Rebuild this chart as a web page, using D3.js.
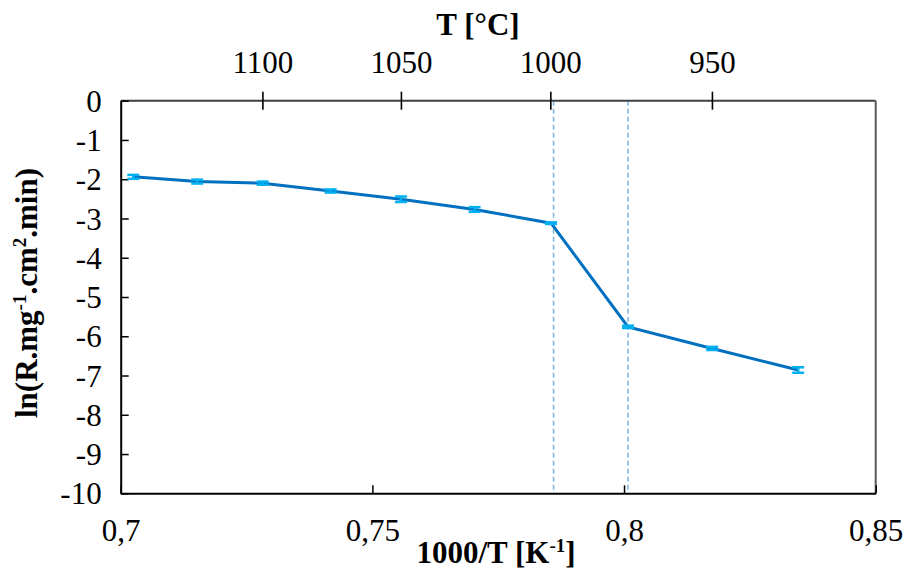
<!DOCTYPE html>
<html><head><meta charset="utf-8">
<script src="https://cdn.jsdelivr.net/npm/d3@7"></script>
<style>
body{margin:0;background:#fff;}
text{font-family:"Liberation Serif","Times New Roman",serif;fill:#000;}
</style></head>
<body><svg id="c" width="904" height="571"></svg>
<script>
const invT = [0.7025, 0.7152, 0.7282, 0.7417, 0.7557, 0.7703, 0.7855, 0.8008, 0.8175, 0.8346];
const lnR  = [-1.94, -2.06, -2.10, -2.30, -2.51, -2.77, -3.12, -5.76, -6.31, -6.86];
const errs = [0.05, 0.05, 0.04, 0.04, 0.07, 0.06, 0.02, 0.03, 0.04, 0.07];
const xTicks = [0.7, 0.75, 0.8, 0.85];
const xTickLabels = ["0,7", "0,75", "0,8", "0,85"];
const yTicks = [0, -1, -2, -3, -4, -5, -6, -7, -8, -9, -10];
const topTicksC = [1100, 1050, 1000, 950];
const dashedX = [0.7860, 0.8008];

const svg = d3.select("#c");
const L = 120.7, R = 875.7, T = 100.7, B = 493.3;
const x = d3.scaleLinear().domain([0.7, 0.85]).range([L, R]);
const y = d3.scaleLinear().domain([-10, 0]).range([B, T]);
const fs = 31;

// dashed reference lines
svg.selectAll("line.dash").data(dashedX).enter().append("line")
  .attr("x1", d => x(d)).attr("x2", d => x(d)).attr("y1", T).attr("y2", B)
  .attr("stroke", "#8ab8e6").attr("stroke-width", 1.6).attr("stroke-dasharray", "5,3");

// frame: top & right
svg.append("line").attr("x1", L).attr("x2", R).attr("y1", T).attr("y2", T).attr("stroke", "#404040").attr("stroke-width", 2);
svg.append("line").attr("x1", R).attr("x2", R).attr("y1", T).attr("y2", B).attr("stroke", "#595959").attr("stroke-width", 2);

// bottom axis
const xAxis = d3.axisBottom(x).tickValues(xTicks).tickSize(-8).tickFormat((d, i) => xTickLabels[i]).tickSizeOuter(0);
const gx = svg.append("g").attr("transform", `translate(0,${B})`).call(xAxis);
gx.select(".domain").attr("stroke", "#000").attr("stroke-width", 2);
gx.selectAll(".tick line").attr("stroke", "#000").attr("stroke-width", 1.5);
gx.selectAll(".tick text").attr("font-size", fs).attr("font-family", "Liberation Serif").attr("y", 0).attr("dy", 0)
  .attr("transform", "translate(0,48)");

// left axis
const yAxis = d3.axisLeft(y).tickValues(yTicks).tickSize(-8).tickFormat(d3.format("d")).tickSizeOuter(0);
const gy = svg.append("g").attr("transform", `translate(${L},0)`).call(yAxis);
gy.select(".domain").attr("stroke", "#000").attr("stroke-width", 2);
gy.selectAll(".tick line").attr("stroke", "#000").attr("stroke-width", 1.5);
gy.selectAll(".tick text").attr("font-size", fs).attr("font-family", "Liberation Serif")
  .attr("x", -19).attr("dy", "0.34em").text(d => d < 0 ? "-" + Math.abs(d) : d);

// top axis (secondary, °C)
const topPos = topTicksC.map(t => 1000 / (t + 273.15));
const gt = svg.append("g");
gt.selectAll("line").data(topPos).enter().append("line")
  .attr("x1", d => x(d)).attr("x2", d => x(d)).attr("y1", T - 9).attr("y2", T + 9)
  .attr("stroke", "#000").attr("stroke-width", 1.6);
gt.selectAll("text").data(topTicksC).enter().append("text")
  .attr("x", (d, i) => x(topPos[i])).attr("y", 73).attr("text-anchor", "middle")
  .attr("font-size", fs).text(d => d);

// line
const pts = invT.map((v, i) => ({x: v, y: lnR[i], e: errs[i]}));
svg.append("path").datum(pts)
  .attr("d", d3.line().x(d => x(d.x)).y(d => y(d.y)))
  .attr("fill", "none").attr("stroke", "#0070c0").attr("stroke-width", 3);

// error bars
const eb = svg.selectAll("g.eb").data(pts).enter().append("g");
eb.append("line").attr("x1", d => x(d.x)).attr("x2", d => x(d.x))
  .attr("y1", d => y(d.y - d.e)).attr("y2", d => y(d.y + d.e))
  .attr("stroke", "#00b0f0").attr("stroke-width", 2.5);
eb.append("line").attr("x1", d => x(d.x) - 6).attr("x2", d => x(d.x) + 6)
  .attr("y1", d => y(d.y + d.e)).attr("y2", d => y(d.y + d.e))
  .attr("stroke", "#00b0f0").attr("stroke-width", 2.5);
eb.append("line").attr("x1", d => x(d.x) - 6).attr("x2", d => x(d.x) + 6)
  .attr("y1", d => y(d.y - d.e)).attr("y2", d => y(d.y - d.e))
  .attr("stroke", "#00b0f0").attr("stroke-width", 2.5);

// titles
svg.append("text").attr("x", 478).attr("y", 35).attr("text-anchor", "middle")
  .attr("font-size", fs).attr("font-weight", "bold").text("T [°C]");

const xt = svg.append("text").attr("x", 496).attr("y", 563).attr("text-anchor", "middle")
  .attr("font-size", fs).attr("font-weight", "bold");
xt.append("tspan").text("1000/T [K");
xt.append("tspan").attr("font-size", 19).attr("dy", -11).text("-1");
xt.append("tspan").attr("dy", 11).text("]");

const yt = svg.append("text").attr("transform", "translate(37,293) rotate(-90)").attr("text-anchor", "middle")
  .attr("font-size", fs).attr("font-weight", "bold");
yt.append("tspan").text("ln(R.mg");
yt.append("tspan").attr("font-size", 19).attr("dy", -11).text("-1");
yt.append("tspan").attr("dy", 11).text(".cm");
yt.append("tspan").attr("font-size", 19).attr("dy", -11).text("2");
yt.append("tspan").attr("dy", 11).text(".min)");
</script></body></html>
